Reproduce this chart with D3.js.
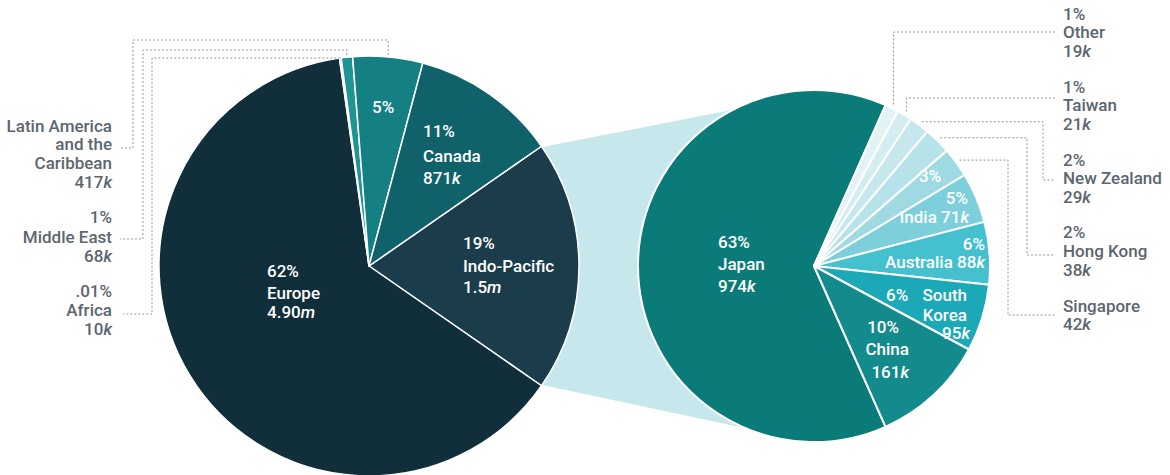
<!DOCTYPE html>
<html>
<head>
<meta charset="utf-8">
<script src="https://cdn.jsdelivr.net/npm/d3@7.9.0/dist/d3.min.js"></script>
<style>
  html, body { margin: 0; padding: 0; background: #fff; }
  svg text { font-family: Roboto, "Noto Sans", sans-serif; font-size: 17px; font-weight: 500; }
  .inside { fill: #fff; }
  .outside { fill: #5b6670; }
  .leader { fill: none; stroke: #8e969c; stroke-width: 1; stroke-dasharray: 2,2; }
</style>
</head>
<body>
<div id="chart"></div>
<script>
// regions (left pie), clockwise from the Indo-Pacific slice
const regions = ["Indo-Pacific", "Europe", "Africa", "Middle East", "Latin America and the Caribbean", "Canada"];
const regionValues = [1500, 4900, 10, 68, 417, 871];
const regionPct = ["19%", "62%", ".01%", "1%", "5%", "11%"];
const regionAmount = ["1.5", "4.90", "10", "68", "417", "871"];
const regionUnit = ["m", "m", "k", "k", "k", "k"];

// Indo-Pacific breakdown (right pie), clockwise from Japan
const asia = ["Japan", "Other", "Taiwan", "New Zealand", "Hong Kong", "Singapore", "India", "Australia", "South Korea", "China"];
const asiaValues = [974, 19, 21, 29, 38, 42, 71, 88, 95, 161];
const asiaPct = ["63%", "1%", "1%", "2%", "2%", "3%", "5%", "6%", "6%", "10%"];
const asiaAmount = ["974", "19", "21", "29", "38", "42", "71", "88", "95", "161"];
const asiaUnit = ["k", "k", "k", "k", "k", "k", "k", "k", "k", "k"];

const width = 1170;
const height = 475;

const regionColors = {
    "Indo-Pacific": "#1b3d4b",
    "Europe": "#112e3b",
    "Africa": "#2b7aa6",
    "Middle East": "#1e9592",
    "Latin America and the Caribbean": "#158084",
    "Canada": "#0f616a"
};
const asiaColors = {
    "Japan": "#0a7b78", "Other": "#e2f2f5", "Taiwan": "#d4edf1", "New Zealand": "#c6e8ed",
    "Hong Kong": "#b6e2e9", "Singapore": "#9fd9e2", "India": "#7ccfdb", "Australia": "#45c0cf",
    "South Korea": "#1ba8b7", "China": "#138b8d"
};

const left = { cx: 369, cy: 266, r: 210 };
const right = { cx: 814, cy: 266, r: 176 };

const svg = d3.select('#chart').append('svg')
    .attr('width', width)
    .attr('height', height)
    .attr('viewBox', `0 0 ${width} ${height}`);

function polar(c, a, R) {
    return [c.cx + R * Math.sin(a), c.cy - R * Math.cos(a)];
}

// pies
const leftRows = regions.map((name, i) => ({ name, value: regionValues[i], pct: regionPct[i], amt: regionAmount[i], unit: regionUnit[i] }));
const rightRows = asia.map((name, i) => ({ name, value: asiaValues[i], pct: asiaPct[i], amt: asiaAmount[i], unit: asiaUnit[i] }));

const leftTotal = d3.sum(regionValues);
const leftStart = Math.PI / 2 - Math.PI * regionValues[0] / leftTotal;
const leftArcs = d3.pie().sort(null).value(d => d.value)
    .startAngle(leftStart).endAngle(leftStart + 2 * Math.PI)(leftRows);

const rightTotal = d3.sum(asiaValues);
const rightStart = 3 * Math.PI / 2 - Math.PI * asiaValues[0] / rightTotal;
const rightArcs = d3.pie().sort(null).value(d => d.value)
    .startAngle(rightStart).endAngle(rightStart + 2 * Math.PI)(rightRows);

// connector wedge between the Indo-Pacific slice and the breakdown pie
const ip = leftArcs[0];
const wedgeTop = 332.6 * Math.PI / 180;
const wedgeBottom = 202.5 * Math.PI / 180;
svg.append('polygon')
    .attr('fill', '#c6e8ec')
    .attr('points', [
        polar(left, ip.startAngle, left.r - 2),
        polar(right, wedgeTop, right.r),
        [right.cx, right.cy],
        polar(right, wedgeBottom, right.r),
        polar(left, ip.endAngle, left.r - 2)
    ].map(p => p.join(',')).join(' '));

const leftArc = d3.arc().innerRadius(0).outerRadius(left.r);
svg.append('g')
    .attr('transform', `translate(${left.cx},${left.cy})`)
    .selectAll('path')
    .data(leftArcs)
    .join('path')
    .attr('d', leftArc)
    .attr('fill', d => regionColors[d.data.name])
    .attr('stroke', '#fff')
    .attr('stroke-width', 1.5)
    .attr('stroke-linejoin', 'round');

const rightArc = d3.arc().innerRadius(0).outerRadius(right.r);
svg.append('g')
    .attr('transform', `translate(${right.cx},${right.cy})`)
    .selectAll('path')
    .data(rightArcs)
    .join('path')
    .attr('d', rightArc)
    .attr('fill', d => asiaColors[d.data.name])
    .attr('stroke', '#fff')
    .attr('stroke-width', 2)
    .attr('stroke-linejoin', 'round');

// text helpers
function addLine(g, row, line) {
    const t = g.append('text')
        .attr('x', line.x)
        .attr('y', line.y)
        .attr('text-anchor', line.anchor || 'start');
    const kinds = Array.isArray(line.t) ? line.t : [line.t];
    kinds.forEach((k, i) => {
        if (i > 0) t.append('tspan').text(' ');
        if (k === 'pct') t.append('tspan').text(row.pct);
        else if (k === 'name') t.append('tspan').text(row.name);
        else if (k === 'amt') {
            t.append('tspan').text(row.amt);
            t.append('tspan').attr('font-style', 'italic').text(row.unit);
        } else t.append('tspan').text(k);
    });
}

// label layout (inside labels relative to pie centre)
const leftInside = {
    "Latin America and the Caribbean": [{ t: 'pct', x: 3, y: -153 }],
    "Canada": [{ t: 'pct', x: 54, y: -129 }, { t: 'name', x: 54, y: -104 }, { t: 'amt', x: 54, y: -82 }],
    "Indo-Pacific": [{ t: 'pct', x: 94, y: -17 }, { t: 'name', x: 94, y: 6 }, { t: 'amt', x: 94, y: 27 }],
    "Europe": [{ t: 'pct', x: -102, y: 11 }, { t: 'name', x: -102, y: 33 }, { t: 'amt', x: -102, y: 52 }]
};
const rightInside = {
    "Japan": [{ t: 'pct', x: -96, y: -18 }, { t: 'name', x: -96, y: 4 }, { t: 'amt', x: -96, y: 26 }],
    "China": [{ t: 'pct', x: 85, y: 67, anchor: 'end' }, { t: 'name', x: 95, y: 89, anchor: 'end' }, { t: 'amt', x: 95, y: 112, anchor: 'end' }],
    "South Korea": [{ t: 'pct', x: 72, y: 35 }, { t: 'South', x: 153, y: 35, anchor: 'end' }, { t: 'Korea', x: 153, y: 55, anchor: 'end' }, { t: 'amt', x: 156, y: 73, anchor: 'end' }],
    "Australia": [{ t: 'pct', x: 171, y: -16, anchor: 'end' }, { t: ['name', 'amt'], x: 171, y: 2, anchor: 'end' }],
    "India": [{ t: 'pct', x: 154, y: -62, anchor: 'end' }, { t: ['name', 'amt'], x: 155, y: -43, anchor: 'end' }],
    "Singapore": [{ t: 'pct', x: 105, y: -84 }]
};

function drawInside(arcs, centre, layout) {
    const g = svg.append('g')
        .attr('class', 'inside')
        .attr('transform', `translate(${centre.cx},${centre.cy})`);
    arcs.forEach(a => {
        (layout[a.data.name] || []).forEach(line => addLine(g, a.data, line));
    });
}
drawInside(leftArcs, left, leftInside);
drawInside(rightArcs, right, rightInside);

// outside labels with dotted leaders
const leftOutside = {
    "Latin America and the Caribbean": {
        lines: [{ t: 'Latin America', y: 132 }, { t: 'and the', y: 150 }, { t: 'Caribbean', y: 169 }, { t: 'amt', y: 188 }],
        R: 212, yTop: 40, xElbow: 133, yLabel: 148, xEnd: 120
    },
    "Middle East": {
        lines: [{ t: 'pct', y: 223 }, { t: 'name', y: 243 }, { t: 'amt', y: 262 }],
        R: 212, yTop: 50, xElbow: 143, yLabel: 239, xEnd: 120
    },
    "Africa": {
        lines: [{ t: 'pct', y: 297 }, { t: 'name', y: 316 }, { t: 'amt', y: 335 }],
        R: 210, yTop: null, xElbow: 152, yLabel: 314, xEnd: 123
    }
};
const rightOutside = {
    "Other": {
        lines: [{ t: 'pct', y: 20 }, { t: 'name', y: 38 }, { t: 'amt', y: 57 }],
        R: 180, yTop: 32, xElbow: null, yLabel: 32, xEnd: 1055
    },
    "Taiwan": {
        lines: [{ t: 'pct', y: 93 }, { t: 'name', y: 111 }, { t: 'amt', y: 130 }],
        R: 180, yTop: 98, xElbow: null, yLabel: 98, xEnd: 1055
    },
    "New Zealand": {
        lines: [{ t: 'pct', y: 166 }, { t: 'name', y: 184 }, { t: 'amt', y: 203 }],
        R: 180, yTop: null, xElbow: 1043, yLabel: 180, xEnd: 1055
    },
    "Hong Kong": {
        lines: [{ t: 'pct', y: 238 }, { t: 'name', y: 257 }, { t: 'amt', y: 276 }],
        R: 180, yTop: null, xElbow: 1027, yLabel: 255, xEnd: 1055
    },
    "Singapore": {
        lines: [{ t: 'name', y: 312 }, { t: 'amt', y: 330 }],
        R: 180, yTop: null, xElbow: 1008, yLabel: 315, xEnd: 1055
    }
};

function drawOutside(arcs, centre, layout, textX, anchor) {
    const g = svg.append('g').attr('class', 'outside');
    arcs.forEach(a => {
        const spec = layout[a.data.name];
        if (!spec) return;
        const mid = (a.startAngle + a.endAngle) / 2;
        const p = polar(centre, mid, spec.R);
        const pts = [p];
        if (spec.yTop !== null) pts.push([p[0], spec.yTop]);
        if (spec.xElbow !== null) {
            pts.push([spec.xElbow, pts[pts.length - 1][1]]);
            pts.push([spec.xElbow, spec.yLabel]);
        }
        pts.push([spec.xEnd, spec.yLabel]);
        svg.append('path')
            .attr('class', 'leader')
            .attr('d', d3.line()(pts));
        spec.lines.forEach(line => addLine(g, a.data, { t: line.t, x: textX, y: line.y, anchor }));
    });
}
drawOutside(leftArcs, left, leftOutside, 112, 'end');
drawOutside(rightArcs, right, rightOutside, 1063, 'start');
</script>
</body>
</html>
